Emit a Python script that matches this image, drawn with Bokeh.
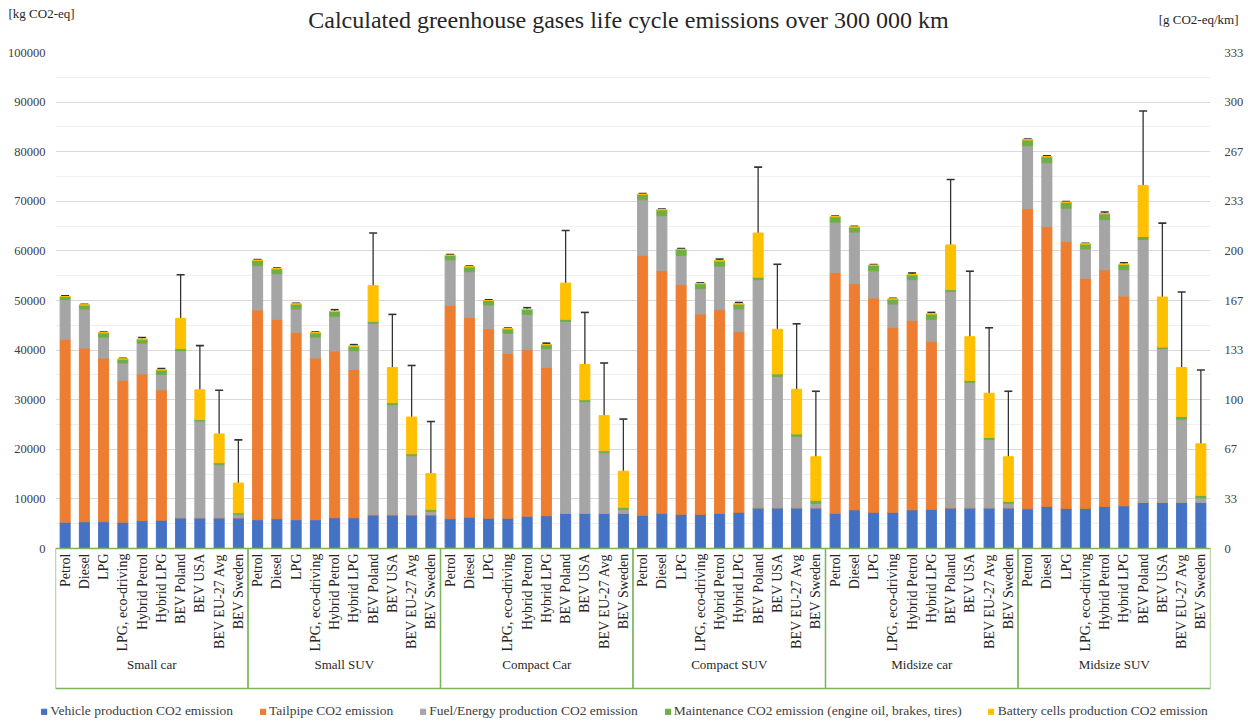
import math
from bokeh.plotting import figure
from bokeh.layouts import column
from bokeh.models import (ColumnDataSource, FactorRange, Range1d, FixedTicker, LinearAxis,
                          Whisker, TeeHead, Legend, NumeralTickFormatter)
from bokeh.core.properties import value
from bokeh.embed import file_html
from bokeh.resources import INLINE

title_text = "Calculated greenhouse gases life cycle emissions over 300 000 km"
left_unit = "[kg CO2-eq]"
right_unit = "[g CO2-eq/km]"

groups = ["Small car", "Small SUV", "Compact Car", "Compact SUV", "Midsize car", "Midsize SUV"]
variants = ["Petrol", "Diesel", "LPG", "LPG, eco-driving", "Hybrid Petrol", "Hybrid LPG",
            "BEV Poland", "BEV USA", "BEV EU-27 Avg", "BEV Sweden"]

series_names = ["Vehicle production CO2 emission", "Tailpipe CO2 emission",
                "Fuel/Energy production CO2 emission",
                "Maintenance CO2 emission (engine oil, brakes, tires)",
                "Battery cells production CO2 emission"]

vehicle = [5300, 5400, 5400, 5300, 5600, 5700, 6200, 6200, 6200, 6200,
           5800, 6000, 5800, 5800, 6200, 6200, 6800, 6800, 6800, 6800,
           6000, 6300, 6100, 6100, 6500, 6600, 7100, 7100, 7100, 7100,
           6700, 7100, 6900, 6900, 7100, 7300, 8200, 8200, 8200, 8200,
           7100, 7800, 7300, 7300, 7800, 7900, 8200, 8200, 8200, 8200,
           8000, 8500, 8100, 8100, 8500, 8600, 9300, 9300, 9300, 9300]
tailpipe = [36900, 35000, 33000, 28600, 29600, 26300, 0, 0, 0, 0,
            42300, 40200, 37800, 32600, 33600, 29900, 0, 0, 0, 0,
            43000, 40300, 38200, 33200, 33600, 29900, 0, 0, 0, 0,
            52400, 48900, 46300, 40400, 41100, 36400, 0, 0, 0, 0,
            48500, 45600, 43200, 37300, 38200, 33900, 0, 0, 0, 0,
            60500, 56400, 53800, 46400, 47700, 42300, 0, 0, 0, 0]
fuel_energy = [8000, 7900, 4200, 3500, 6200, 3100, 33700, 19500, 10700, 700,
               8900, 9200, 4700, 4200, 7000, 3800, 38600, 22200, 11900, 700,
               9200, 9200, 4800, 4100, 7100, 3800, 38700, 22500, 12200, 800,
               11200, 11100, 5900, 5100, 8700, 4600, 46000, 26500, 14400, 900,
               10200, 10400, 5500, 4700, 8200, 4400, 43600, 25300, 13800, 900,
               12700, 12900, 6700, 5900, 10100, 5300, 53000, 31000, 16800, 900]
maintenance = [600, 800, 900, 800, 800, 900, 400, 300, 400, 300,
               1100, 1000, 1000, 900, 1000, 900, 400, 400, 400, 400,
               900, 1000, 900, 900, 1000, 800, 400, 400, 400, 400,
               1100, 1200, 1200, 1000, 1100, 1000, 500, 500, 500, 600,
               1100, 1000, 1100, 1000, 1000, 1100, 400, 400, 400, 400,
               1200, 1200, 1200, 1000, 1200, 1100, 600, 300, 500, 500]
battery = [0, 0, 0, 0, 0, 0, 6100, 6000, 5800, 6000,
           0, 0, 0, 0, 0, 0, 7200, 7100, 7400, 7200,
           0, 0, 0, 0, 0, 0, 7300, 7100, 7100, 7300,
           0, 0, 0, 0, 0, 0, 8900, 9000, 9000, 8800,
           0, 0, 0, 0, 0, 0, 9000, 8800, 8900, 9000,
           0, 0, 0, 0, 0, 0, 10300, 10100, 9900, 10400]
err_minus = [150, 150, 150, 150, 350, 300, 3500, 3500, 3500, 3500,
             150, 150, 150, 150, 350, 300, 4200, 4000, 4300, 4200,
             150, 150, 150, 150, 350, 300, 4200, 4200, 4000, 4100,
             150, 150, 150, 150, 350, 300, 5200, 5200, 5100, 5100,
             150, 150, 150, 150, 350, 300, 5200, 5100, 5200, 5300,
             150, 150, 150, 150, 350, 300, 5900, 5900, 5800, 5900]
err_plus = [150, 150, 150, 150, 350, 300, 8800, 8900, 8800, 8700,
            150, 150, 150, 150, 350, 300, 10600, 10700, 10400, 10500,
            150, 150, 150, 150, 350, 300, 10600, 10500, 10600, 10500,
            150, 150, 150, 150, 350, 300, 13300, 13100, 13200, 13200,
            150, 150, 150, 150, 350, 300, 13200, 13200, 13200, 13200,
            150, 150, 150, 150, 350, 300, 15000, 14900, 15200, 14900]

y_ticks = list(range(0, 100001, 10000))
y_minor = list(range(5000, 100000, 10000))
km_factor = 300.0  # 300 000 km: g/km = kg / 300

colors = ["#4472C4", "#ED7D31", "#A5A5A5", "#70AD47", "#FFC000"]
FONT = "Liberation Serif"

factors = [(g, v) for g in groups for v in variants]
totals = [a + b + c + d + e for a, b, c, d, e in zip(vehicle, tailpipe, fuel_energy, maintenance, battery)]
src = ColumnDataSource(dict(
    x=factors, vehicle=vehicle, tailpipe=tailpipe, fuel=fuel_energy,
    maint=maintenance, battery=battery,
    upper=[t + p for t, p in zip(totals, err_plus)],
    lower=[t - m for t, m in zip(totals, err_minus)],
    label=[v for g in groups for v in variants],
))

W, H = 1248, 722
HEAD_H = 40                 # header strip: title + unit labels
FOOT_H = 22                 # footer strip: legend
FR_L, FR_R, FR_T = 55, 1210, 52
FR_B = H - FOOT_H           # 700
ZERO_Y = 548
px_per_unit = (ZERO_Y - FR_T) / 100000.0
y_bottom = -(FR_B - ZERO_Y) / px_per_unit


def no_align(fig):
    try:
        fig.frame_align = False
    except Exception:
        pass


def strip(height):
    f = figure(width=W, height=height, output_backend="svg", toolbar_location=None,
               x_range=Range1d(0, W), y_range=Range1d(height, 0),
               x_axis_location=None, y_axis_location=None,
               min_border=0, min_border_left=0, min_border_right=0,
               min_border_top=0, min_border_bottom=0)
    f.outline_line_color = None
    f.xgrid.visible = False
    f.ygrid.visible = False
    no_align(f)
    return f


# ---- header strip ----
head = strip(HEAD_H)
head.text(x=[628], y=[19], text=[title_text], text_align="center", text_baseline="middle",
          text_font=value(FONT), text_font_size="24px", text_color="#262626")
head.text(x=[8], y=[13], text=[left_unit], text_align="left", text_baseline="middle",
          text_font=value(FONT), text_font_size="13px", text_color="#262626")
head.text(x=[1238], y=[19], text=[right_unit], text_align="right", text_baseline="middle",
          text_font=value(FONT), text_font_size="13px", text_color="#262626")

# ---- main chart ----
p = figure(width=W, height=FR_B - HEAD_H, output_backend="svg", toolbar_location=None,
           x_range=FactorRange(factors=factors, group_padding=0, factor_padding=0, range_padding=0),
           y_range=Range1d(y_bottom, 100000),
           x_axis_location=None, y_axis_location="left",
           min_border_left=FR_L, min_border_right=W - FR_R,
           min_border_top=FR_T - HEAD_H, min_border_bottom=0)
no_align(p)
p.extra_y_ranges = {"gkm": Range1d(y_bottom / km_factor, 100000 / km_factor)}
p.outline_line_color = None
p.background_fill_color = "white"
p.border_fill_color = "white"
p.xgrid.visible = False
p.ygrid.ticker = FixedTicker(ticks=y_ticks, minor_ticks=y_minor)
p.ygrid.grid_line_color = "#d9d9d9"
p.ygrid.minor_grid_line_color = "#efefef"

yax = p.yaxis[0]
yax.ticker = FixedTicker(ticks=y_ticks)
yax.formatter = NumeralTickFormatter(format="0")

rax = LinearAxis(y_range_name="gkm",
                 ticker=FixedTicker(ticks=[t / km_factor for t in y_ticks]),
                 formatter=NumeralTickFormatter(format="0"))
p.add_layout(rax, "right")

for ax, standoff in [(yax, 4), (rax, 8)]:
    ax.axis_line_color = None
    ax.major_tick_line_color = None
    ax.minor_tick_line_color = None
    ax.major_label_text_font = FONT
    ax.major_label_text_font_size = "12.5px"
    ax.major_label_text_color = "#404040"
    ax.major_label_standoff = standoff

renderers = p.vbar_stack(["vehicle", "tailpipe", "fuel", "maint", "battery"], x="x", width=0.52,
                         color=colors, source=src)

whisk = Whisker(source=src, base="x", upper="upper", lower="lower", dimension="height",
                line_color="#333333", line_width=1.3,
                upper_head=TeeHead(size=8, line_color="#333333", line_width=1.6),
                lower_head=TeeHead(size=8, line_color="#333333", line_width=1.6))
p.add_layout(whisk)

# group boxes of the category axis
box_h = (688 - ZERO_Y) / px_per_unit
p.rect(x=groups, y=-box_h / 2, width=10, height=box_h, fill_alpha=0,
       line_color="#7DB55A", line_width=1.3)

# rotated variant labels
p.text(x="x", y=-5 / px_per_unit, text="label", source=src, angle=math.pi / 2,
       text_align="right", text_baseline="middle", text_font=value(FONT),
       text_font_size="14px", text_color="#262626")

# group labels
p.text(x=groups, y=[-(664 - ZERO_Y) / px_per_unit] * len(groups), text=groups,
       text_align="center", text_baseline="middle", text_font=value(FONT),
       text_font_size="13px", text_color="#262626")

# ---- footer strip with legend (swatches use the same series colours) ----
foot = strip(FOOT_H)
swatch_src = ColumnDataSource(dict(x=[-100.0], y=[-100.0]))   # kept outside the visible strip
swatches = [foot.rect(x="x", y="y", width=1, height=1, color=c, source=swatch_src) for c in colors]
legend = Legend(items=[(n, [r]) for n, r in zip(series_names, swatches)],
                location="center", orientation="horizontal")
legend.background_fill_alpha = 0
legend.border_line_alpha = 0
legend.label_text_font = FONT
legend.label_text_font_size = "13.5px"
legend.label_text_color = "#404040"
legend.glyph_width = 7
legend.glyph_height = 7
legend.label_height = 16
legend.label_standoff = 3
legend.spacing = 26
legend.margin = 0
legend.padding = 2
foot.add_layout(legend)

layout = column(head, p, foot, spacing=0)
open("out.html", "w").write(file_html(layout, INLINE))
